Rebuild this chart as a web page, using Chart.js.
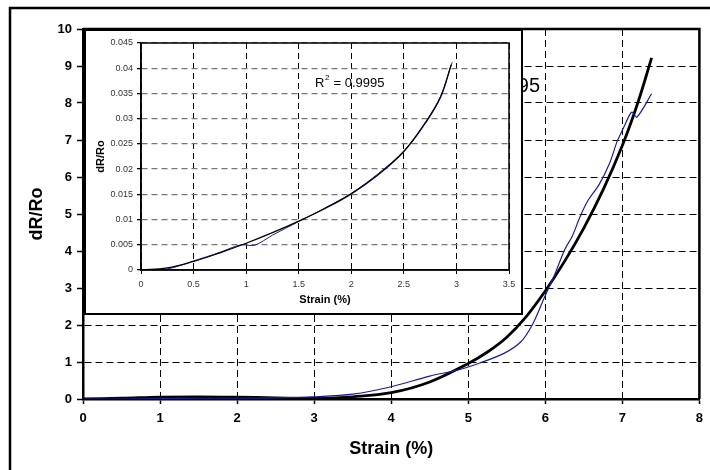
<!DOCTYPE html>
<html>
<head>
<meta charset="utf-8">
<script src="https://cdn.jsdelivr.net/npm/chart.js@4/dist/chart.umd.min.js"></script>
<style>
  body { margin: 0; background: #fff; }
  #wrap { position: relative; width: 710px; height: 470px; overflow: hidden; }
  #mainChart { position: absolute; left: 0; top: 0; }
  #insetBox { position: absolute; left: 84px; top: 29px; width: 439px; height: 286px;
              box-sizing: border-box; border: 2px solid #000; background: #fff; }
  #insetChart { display: block; }
</style>
</head>
<body>
<div id="wrap">
  <canvas id="mainChart" width="710" height="470"></canvas>
  <div id="insetBox"><canvas id="insetChart" width="435" height="282"></canvas></div>
</div>
<script>
// main chart: measured curve (blue) and fitted trend (black)
const strainMeas = [0, 0.5, 1, 1.5, 2, 2.5, 3, 3.5, 4, 4.5, 4.86, 5.16, 5.47, 5.68, 5.83, 5.99, 6.12, 6.25, 6.35, 6.45, 6.55, 6.7, 6.84, 6.93, 7.02, 7.1, 7.13, 7.19, 7.38];
const drMeas = [0, 0, 0.01, 0.02, 0.02, 0.03, 0.06, 0.13, 0.33, 0.62, 0.78, 0.98, 1.24, 1.54, 2.0, 2.75, 3.35, 4.03, 4.4, 4.92, 5.35, 5.8, 6.4, 6.95, 7.35, 7.7, 7.75, 7.62, 8.25];
const strainFit = [0, 0.5, 1, 1.5, 2, 2.5, 3, 3.5, 4, 4.5, 5, 5.25, 5.5, 5.75, 6, 6.25, 6.5, 6.75, 7, 7.2, 7.38];
const drFit = [0, 0.02, 0.05, 0.06, 0.05, 0.03, 0.02, 0.06, 0.17, 0.46, 0.96, 1.27, 1.67, 2.22, 2.92, 3.72, 4.62, 5.65, 6.85, 8.0, 9.22];

// inset: first 3 % of strain
const insetStrainMeas = [0, 0.25, 0.5, 0.75, 0.95, 1.08, 1.25, 1.5, 1.75, 2, 2.25, 2.5, 2.72, 2.85, 2.96];
const insetDrMeas = [0, 0.0002, 0.0018, 0.0035, 0.0050, 0.0049, 0.0069, 0.0096, 0.0123, 0.0152, 0.0190, 0.0236, 0.0298, 0.0345, 0.0412];
const insetStrainFit = [0, 0.25, 0.5, 0.75, 1, 1.25, 1.5, 1.75, 2, 2.25, 2.5, 2.7, 2.85, 2.95];
const insetDrFit = [0, 0.0004, 0.0017, 0.0034, 0.0053, 0.0074, 0.0097, 0.0122, 0.0151, 0.0188, 0.0235, 0.0290, 0.0343, 0.0407];

const r2Text = '0.9995';
const FONT = "'Liberation Sans', Arial, sans-serif";

function pts(xs, ys) {
    return xs.map((x, i) => ({ x: x, y: ys[i] }));
}

// draws the plot box, outer frame and R² label
const mainDeco = {
    id: 'mainDeco',
    afterDraw(chart) {
        const ctx = chart.ctx;
        const a = chart.chartArea;
        ctx.save();
        ctx.strokeStyle = '#000';
        ctx.lineWidth = 2.5;
        ctx.strokeRect(10, 8, 720, 480);
        ctx.beginPath();
        ctx.moveTo(a.left, a.top);
        ctx.lineTo(a.right, a.top);
        ctx.lineTo(a.right, a.bottom);
        ctx.stroke();
        ctx.fillStyle = '#000';
        ctx.font = '20px ' + FONT;
        ctx.textAlign = 'right';
        ctx.textBaseline = 'middle';
        ctx.fillText('R\u00b2 = ' + r2Text, 540, 86);
        ctx.restore();
    }
};

const insetDeco = {
    id: 'insetDeco',
    afterDraw(chart) {
        const ctx = chart.ctx;
        const a = chart.chartArea;
        ctx.save();
        ctx.strokeStyle = '#000';
        ctx.lineWidth = 1.5;
        ctx.strokeRect(a.left, a.top, a.right - a.left, a.bottom - a.top);
        ctx.fillStyle = '#000';
        ctx.textBaseline = 'middle';
        ctx.textAlign = 'left';
        ctx.font = '13px ' + FONT;
        ctx.fillText('R', 229, 52);
        const rw = ctx.measureText('R').width;
        ctx.font = '8px ' + FONT;
        ctx.fillText('2', 229 + rw + 0.5, 47);
        const sw = ctx.measureText('2').width;
        ctx.font = '13px ' + FONT;
        ctx.fillText(' = ' + r2Text, 229 + rw + sw + 1, 52);
        ctx.restore();
    }
};

new Chart(document.getElementById('mainChart'), {
    type: 'line',
    data: {
        datasets: [{
            data: pts(strainMeas, drMeas),
            borderColor: '#1c1c9e',
            borderWidth: 1.2,
            pointRadius: 0,
            tension: 0.3,
            order: 0
        }, {
            data: pts(strainFit, drFit),
            borderColor: '#000',
            borderWidth: 2.8,
            pointRadius: 0,
            tension: 0.4,
            order: 1
        }]
    },
    options: {
        responsive: false,
        animation: false,
        events: [],
        layout: { padding: { left: 0, top: 29, right: 7, bottom: 0 } },
        plugins: { legend: { display: false }, tooltip: { enabled: false } },
        scales: {
            x: {
                type: 'linear', min: 0, max: 8,
                afterFit(s) { s.height = 71; },
                ticks: { stepSize: 1, color: '#000', padding: 7, font: { family: FONT, size: 13, weight: 'bold' } },
                grid: { color: '#000', lineWidth: 1, tickLength: 5, tickColor: '#000', tickWidth: 1.5 },
                border: { color: '#000', width: 2.5, dash: [7, 4] },
                title: { display: true, text: 'Strain (%)', color: '#000', padding: { top: 0, bottom: 10 },
                         font: { family: FONT, size: 18, weight: 'bold' } }
            },
            y: {
                min: 0, max: 10,
                afterFit(s) { s.width = 83; },
                ticks: { stepSize: 1, color: '#000', padding: 5, font: { family: FONT, size: 13, weight: 'bold' } },
                grid: { color: '#000', lineWidth: 1, tickLength: 6, tickColor: '#000', tickWidth: 1.5 },
                border: { color: '#000', width: 2.5, dash: [7, 4] },
                title: { display: true, text: 'dR/Ro', color: '#000', padding: { top: 26, bottom: 0 },
                         font: { family: FONT, size: 18, weight: 'bold' } }
            }
        }
    },
    plugins: [mainDeco]
});

new Chart(document.getElementById('insetChart'), {
    type: 'line',
    data: {
        datasets: [{
            data: pts(insetStrainMeas, insetDrMeas),
            borderColor: '#1c1c9e',
            borderWidth: 1,
            pointRadius: 0,
            tension: 0.3,
            order: 1
        }, {
            data: pts(insetStrainFit, insetDrFit),
            borderColor: '#000',
            borderWidth: 1.3,
            pointRadius: 0,
            tension: 0.4,
            order: 0
        }]
    },
    options: {
        responsive: false,
        animation: false,
        events: [],
        layout: { padding: { left: 0, top: 12, right: 12, bottom: 0 } },
        plugins: { legend: { display: false }, tooltip: { enabled: false } },
        scales: {
            x: {
                type: 'linear', min: 0, max: 3.5,
                afterFit(s) { s.height = 43; },
                ticks: { stepSize: 0.5, color: '#333', padding: 5, font: { family: FONT, size: 9 },
                         callback: v => String(parseFloat(v.toFixed(1))) },
                grid: { color: '#000', lineWidth: 1, tickLength: 4, tickColor: '#000' },
                border: { color: '#000', width: 1.5, dash: [6, 4] },
                title: { display: true, text: 'Strain (%)', color: '#000', padding: { top: 0, bottom: 6 },
                         font: { family: FONT, size: 11, weight: 'bold' } }
            },
            y: {
                min: 0, max: 0.045,
                afterFit(s) { s.width = 55; },
                ticks: { stepSize: 0.005, color: '#333', padding: 4, font: { family: FONT, size: 9 },
                         callback: v => String(parseFloat(v.toFixed(3))) },
                grid: { color: '#777', lineWidth: 1.3, tickLength: 4, tickColor: '#000' },
                border: { color: '#000', width: 1.5, dash: [6, 4] },
                title: { display: true, text: 'dR/Ro', color: '#000', padding: { top: 8, bottom: 0 },
                         font: { family: FONT, size: 11, weight: 'bold' } }
            }
        }
    },
    plugins: [insetDeco]
});
</script>
</body>
</html>
